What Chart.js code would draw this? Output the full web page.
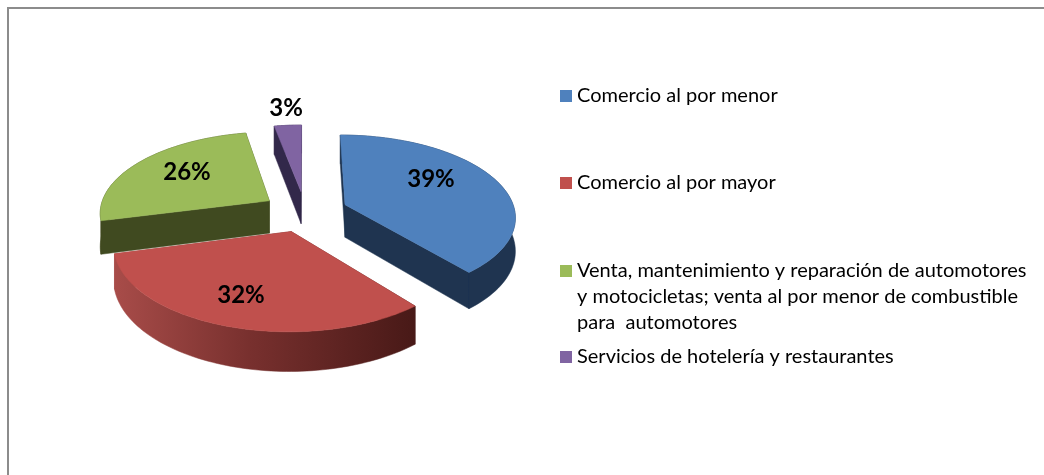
<!DOCTYPE html>
<html>
<head>
<meta charset="utf-8">
<style>
html,body{margin:0;padding:0;background:#fff;width:1044px;height:475px;overflow:hidden}
#frame{position:absolute;left:7px;top:7px;right:0;bottom:0;border-top:2px solid #8c8c8c;border-left:2px solid #8c8c8c}
canvas{position:absolute;left:0;top:0}
</style>
<script src="https://cdn.jsdelivr.net/npm/chart.js@4/dist/chart.umd.min.js"></script>
</head>
<body>
<div id="frame"></div>
<canvas id="c" width="1044" height="475"></canvas>
<script>
const categories = [
  "Comercio al por menor",
  "Comercio al por mayor",
  "Venta, mantenimiento y reparación de automotores y motocicletas; venta al por menor de combustible para  automotores",
  "Servicios de hotelería y restaurantes"
];
const legendLines = [
  ["Comercio al por menor"],
  ["Comercio al por mayor"],
  ["Venta, mantenimiento y reparación de automotores", "y motocicletas; venta al por menor de combustible", "para  automotores"],
  ["Servicios de hotelería y restaurantes"]
];
const shares = [39, 32, 26, 3];
const topColors = ["#4F81BD", "#C0504D", "#9BBB59", "#8064A2"];
const sideColors = ["#1F3450", null, "#404A20", "#32284A"];

// layout constants (not data)
const TILT = 0.475, PERSP = 0.135, DEPTH = 33, EXPLODE = 43;
const labelCentres = [[431, 179], [241, 295], [187, 172], [286, 108]];
const legendBaselines = [102, 189, 277, 363];
const LEGEND_FONT = '20px Lato', LABEL_FONT = 'bold 24px Lato';

function project(el, u, v) {
  const w = 1 - PERSP * v;
  return {
    x: el.x + el.outerRadius * u / w,
    y: el.y + el.outerRadius * TILT * v / w,
    w
  };
}

function slicePoints(el) {
  const e = el.options.offset / el.outerRadius;
  const mid = (el.startAngle + el.endAngle) / 2;
  const cu = e * Math.cos(mid), cv = e * Math.sin(mid);
  const apex = project(el, cu, cv);
  const rim = [];
  const n = 80;
  for (let i = 0; i <= n; i++) {
    const a = el.startAngle + (el.endAngle - el.startAngle) * i / n;
    rim.push(project(el, cu + Math.cos(a), cv + Math.sin(a)));
  }
  return { apex, rim };
}

const drop = p => ({ x: p.x, y: p.y + DEPTH / p.w });

function poly(ctx, pts, fill) {
  ctx.beginPath();
  pts.forEach((p, i) => i ? ctx.lineTo(p.x, p.y) : ctx.moveTo(p.x, p.y));
  ctx.closePath();
  ctx.fillStyle = fill;
  ctx.fill();
  ctx.strokeStyle = fill;
  ctx.lineWidth = 0.5;
  ctx.stroke();
}

const pie3d = {
  id: 'pie3d',
  beforeDatasetsDraw(chart) {
    const ctx = chart.ctx;
    const els = chart.getDatasetMeta(0).data.map((el, i) => ({ el, i }));
    els.sort((a, b) =>
      Math.sin((a.el.startAngle + a.el.endAngle) / 2) -
      Math.sin((b.el.startAngle + b.el.endAngle) / 2));
    els.forEach(({ el, i }) => {
      const { apex, rim } = slicePoints(el);
      let side = sideColors[i];
      if (!side) {
        const xs = rim.map(p => p.x);
        const g = ctx.createLinearGradient(Math.min(...xs), 0, Math.max(...xs), 0);
        g.addColorStop(0, '#A84C49');
        g.addColorStop(0.45, '#78302E');
        g.addColorStop(1, '#481917');
        side = g;
      }
      const first = rim[0], last = rim[rim.length - 1];
      poly(ctx, [apex, first, drop(first), drop(apex)], side);
      poly(ctx, [apex, last, drop(last), drop(apex)], side);
      poly(ctx, rim.concat(rim.slice().reverse().map(drop)), side);
      poly(ctx, [apex].concat(rim), topColors[i]);
    });
    return false;
  },
  afterDraw(chart) {
    const ctx = chart.ctx;
    ctx.save();
    ctx.fillStyle = '#000';
    ctx.font = LABEL_FONT;
    ctx.textAlign = 'center';
    ctx.textBaseline = 'middle';
    shares.forEach((s, i) => ctx.fillText(s + '%', labelCentres[i][0], labelCentres[i][1]));
    ctx.font = LEGEND_FONT;
    ctx.textAlign = 'left';
    ctx.textBaseline = 'alphabetic';
    legendLines.forEach((lines, i) => {
      const y = legendBaselines[i];
      ctx.fillStyle = topColors[i];
      ctx.fillRect(560, y - 12, 12, 12);
      ctx.fillStyle = '#000';
      lines.forEach((t, k) => ctx.fillText(t, 577, y + k * 26));
    });
    ctx.restore();
  }
};

new Chart(document.getElementById('c'), {
  type: 'pie',
  data: {
    labels: categories,
    datasets: [{ data: shares, backgroundColor: topColors, borderWidth: 0, offset: EXPLODE }]
  },
  options: {
    responsive: false,
    animation: false,
    layout: { padding: { left: 113, right: 547, top: 20, bottom: 72 } },
    plugins: { legend: { display: false }, tooltip: { enabled: false } }
  },
  plugins: [pie3d]
});
</script>
</body>
</html>
